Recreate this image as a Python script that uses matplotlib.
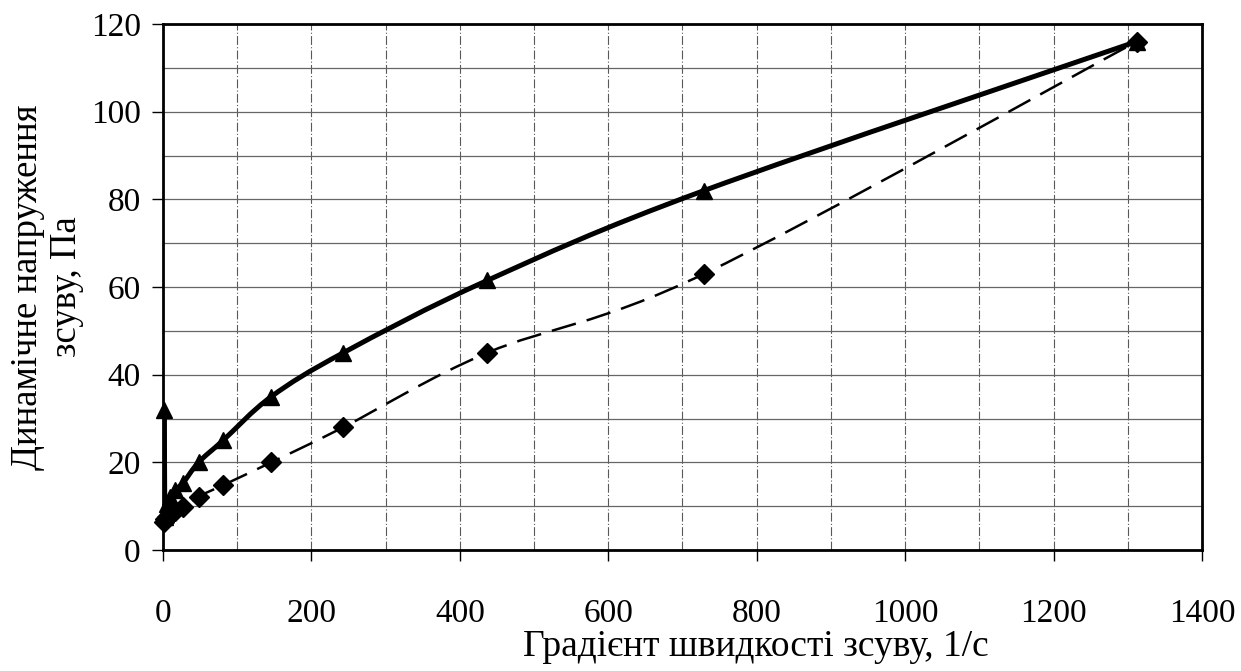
import matplotlib.pyplot as plt
import numpy as np
from matplotlib.path import Path
from matplotlib.patches import PathPatch

plt.rcParams['font.family'] = ['Liberation Serif', 'DejaVu Serif']

# shear rate, 1/s and shear stress, Pa
x_up = [2, 2.5, 4, 6, 9, 16, 27, 48, 81, 146, 243, 437, 729, 1312]
y_up = [32, 7.5, 9, 10.5, 12, 13.7, 15.3, 20, 25, 35, 45, 61.5, 82, 116]
x_down = [1, 3, 5, 9, 16, 27, 48, 81, 146, 243, 437, 729, 1312]
y_down = [6.4, 7, 7.5, 8.3, 9, 9.8, 12.2, 14.8, 20, 28, 45, 63, 116]

xticks = [0, 200, 400, 600, 800, 1000, 1200, 1400]
yticks = [0, 20, 40, 60, 80, 100, 120]


def smooth_path(xs, ys, sx=1039 / 1400, sy=526 / 120):
    # Excel-like smoothed line: cubic Bezier segments through data points
    p = np.column_stack([np.array(xs) * sx, np.array(ys) * sy])
    verts, codes = [p[0]], [Path.MOVETO]
    n = len(p)
    for i in range(n - 1):
        a = p[i - 1] if i > 0 else p[i]
        b, c = p[i], p[i + 1]
        d = p[i + 2] if i + 2 < n else p[i + 1]
        c1 = b + (c - a) / 6
        c2 = c - (d - b) / 6
        verts += [c1, c2, c]
        codes += [Path.CURVE4] * 3
    v = np.array(verts)
    v[:, 0] /= sx
    v[:, 1] /= sy
    return Path(v, codes)


fig = plt.figure(figsize=(12.41, 6.71), dpi=100)
ax = fig.add_axes([0.1313, 0.1803, 0.8373, 0.7839])

ax.add_patch(PathPatch(smooth_path(x_up, y_up), fill=False, lw=3.6,
                       color='black', capstyle='round', zorder=3))
ax.plot(x_up, y_up, ls='none', marker='^', ms=11.5, color='black',
        zorder=4, clip_on=False)

ax.add_patch(PathPatch(smooth_path(x_down, y_down), fill=False, lw=1.8,
                       color='black', linestyle=(0, (10, 4.5)), zorder=3))
ax.plot(x_down, y_down, ls='none', marker='D', ms=10, color='black',
        zorder=4, clip_on=False)

ax.set_xlim(0, 1400)
ax.set_ylim(0, 120)
ax.set_xticks(xticks)
ax.set_yticks(yticks)
ax.set_xticks(np.arange(0, 1401, 100), minor=True)
ax.set_yticks(np.arange(0, 121, 10), minor=True)
ax.tick_params(which='major', direction='out', length=8, width=1,
               labelsize=24)
ax.tick_params(axis='x', which='major', pad=27)
ax.tick_params(axis='y', which='major', pad=8)
ax.tick_params(which='minor', length=0)
ax.grid(which='both', axis='y', color='0.4', lw=0.9)
ax.grid(which='both', axis='x', color='0.35', lw=0.8, ls=(0, (8, 2, 1, 2)))
ax.set_axisbelow(True)
for s in ax.spines.values():
    s.set_linewidth(2)

ax.set_xlabel('Градієнт швидкості зсуву, 1/с', fontsize=27)
ax.xaxis.set_label_coords(0.571, -0.152, transform=ax.transAxes)
ax.xaxis.label.set_va('top')
ax.set_ylabel('Динамічне напруження\nзсуву, Па', fontsize=26.5,
              linespacing=1.18)
ax.yaxis.set_label_coords(-0.076, 0.5, transform=ax.transAxes)

fig.savefig('out.png', dpi=100, facecolor='white')
